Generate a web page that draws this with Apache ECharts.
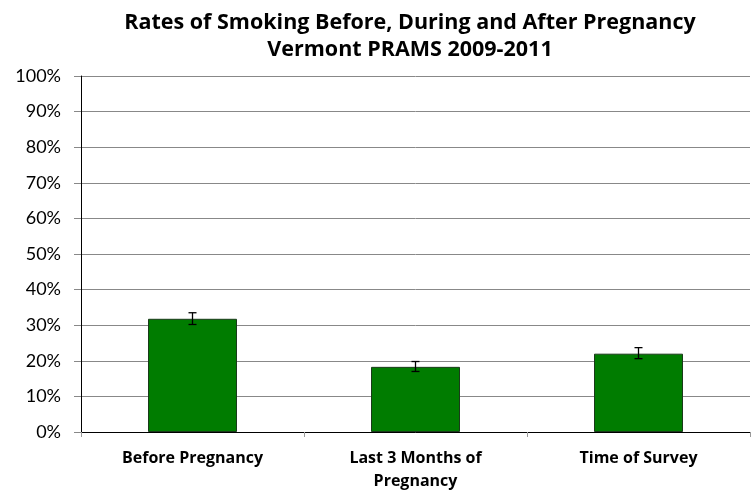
<!DOCTYPE html>
<html>
<head>
<meta charset="utf-8">
<script src="https://cdn.jsdelivr.net/npm/echarts@6/dist/echarts.min.js"></script>
<style>
html,body{margin:0;padding:0;background:#fff;}
#chart{width:756px;height:491px;}
</style>
</head>
<body>
<div id="chart"></div>
<script>
var categories = ['Before Pregnancy', 'Last 3 Months of\nPregnancy', 'Time of Survey'];
var rates = [31.8, 18.3, 22.0];
var lowerCI = [30.2, 17.0, 20.6];
var upperCI = [33.5, 19.8, 23.7];

var errData = [];
for (var i = 0; i < categories.length; i++) {
    errData.push([i, lowerCI[i], upperCI[i]]);
}

var chart = echarts.init(document.getElementById('chart'));
var boldFont = '"Open Sans", sans-serif';
var font = 'Lato, sans-serif';

var option = {
    animation: false,
    title: {
        text: 'Rates of Smoking Before, During and After Pregnancy\nVermont PRAMS 2009-2011',
        left: 405,
        top: 4,
        textAlign: 'center',
        textStyle: {
            fontFamily: boldFont,
            fontSize: 21.5,
            fontWeight: 'bold',
            color: '#000',
            lineHeight: 27
        }
    },
    grid: {
        left: 81,
        right: 6,
        top: 76,
        bottom: 59,
        containLabel: false,
        outerBoundsMode: 'none'
    },
    xAxis: {
        type: 'category',
        data: categories,
        axisLine: { lineStyle: { color: '#000', width: 1 } },
        axisTick: { show: true, length: 5, lineStyle: { color: '#999' } },
        axisLabel: {
            fontFamily: boldFont,
            fontSize: 16,
            fontWeight: 'bold',
            color: '#000',
            margin: 15,
            lineHeight: 23
        }
    },
    yAxis: {
        type: 'value',
        min: 0,
        max: 100,
        interval: 10,
        axisLine: { show: true, lineStyle: { color: '#000', width: 1 } },
        axisTick: { show: true, length: 7, lineStyle: { color: '#888' } },
        splitLine: { lineStyle: { color: '#888', width: 1 } },
        axisLabel: {
            fontFamily: font,
            fontSize: 18,
            color: '#000',
            margin: 20,
            formatter: function (v) { return v + '%'; }
        }
    },
    series: [{
        type: 'bar',
        data: rates,
        barWidth: 89,
        itemStyle: {
            color: '#007c00',
            borderColor: '#1a3a1a',
            borderWidth: 1
        }
    }, {
        type: 'custom',
        data: errData,
        z: 10,
        renderItem: function (params, api) {
            var x = api.value(0);
            var lo = api.coord([x, api.value(1)]);
            var hi = api.coord([x, api.value(2)]);
            var cap = 4;
            var style = { stroke: '#000', lineWidth: 1.3 };
            return {
                type: 'group',
                children: [
                    { type: 'line', shape: { x1: lo[0], y1: lo[1], x2: hi[0], y2: hi[1] }, style: style },
                    { type: 'line', shape: { x1: lo[0] - cap, y1: lo[1], x2: lo[0] + cap, y2: lo[1] }, style: style },
                    { type: 'line', shape: { x1: hi[0] - cap, y1: hi[1], x2: hi[0] + cap, y2: hi[1] }, style: style }
                ]
            };
        }
    }]
};

chart.setOption(option);
</script>
</body>
</html>
